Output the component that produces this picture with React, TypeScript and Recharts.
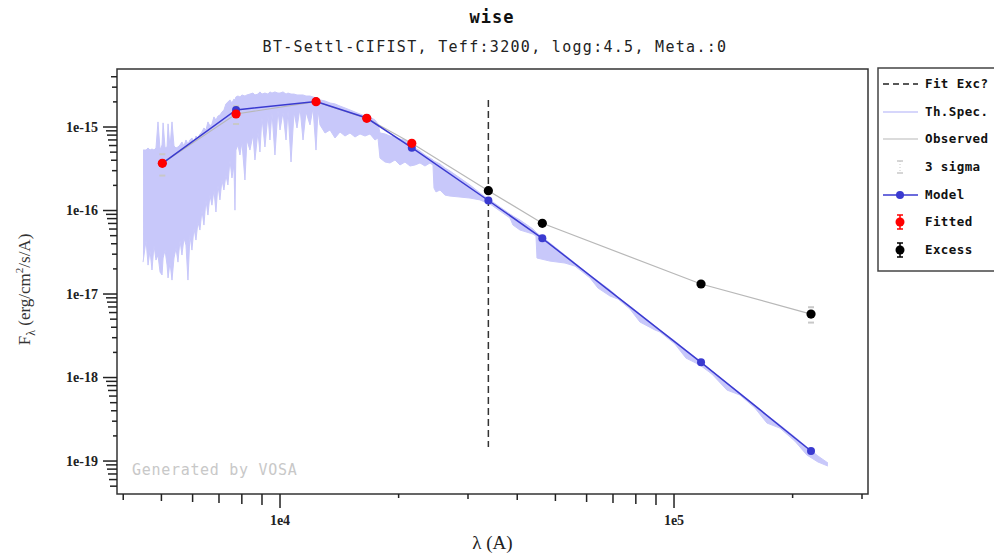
import React from "react";
import {
  Area,
  ComposedChart,
  ErrorBar,
  Legend,
  Line,
  ReferenceArea,
  Scatter,
  XAxis,
  YAxis,
} from "recharts";

// Axis extents (wavelength in A, flux in erg/cm2/s/A)
const X_DOMAIN = [3857, 310700];
const Y_DOMAIN = [4.03e-20, 4.95e-15];

const xTicks = [
  4000, 5000, 6000, 7000, 8000, 9000, 10000, 20000, 30000, 40000, 50000,
  60000, 70000, 80000, 90000, 100000, 200000, 300000,
];
const yTicks = [
  5e-20, 6e-20, 7e-20, 8e-20, 9e-20, 1e-19, 2e-19, 3e-19, 4e-19, 5e-19, 6e-19,
  7e-19, 8e-19, 9e-19, 1e-18, 2e-18, 3e-18, 4e-18, 5e-18, 6e-18, 7e-18, 8e-18,
  9e-18, 1e-17, 2e-17, 3e-17, 4e-17, 5e-17, 6e-17, 7e-17, 8e-17, 9e-17, 1e-16,
  2e-16, 3e-16, 4e-16, 5e-16, 6e-16, 7e-16, 8e-16, 9e-16, 1e-15, 2e-15, 3e-15,
  4e-15,
];

// theoretical spectrum (BT-Settl-CIFIST), upper / lower envelope
const specWave = [
  4491, 4571, 4624, 4677, 4732, 4788, 4844, 4901, 4961, 5019, 5049, 5108, 5168,
  5198, 5257, 5319, 5382, 5445, 5508, 5573, 5638, 5705, 5772, 5839, 5908, 5977,
  6048, 6119, 6190, 6263, 6337, 6411, 6487, 6562, 6640, 6718, 6797, 6877, 6957,
  7039, 7122, 7205, 7290, 7375, 7463, 7551, 7639, 7685, 7729, 7820, 7912, 8005,
  8147, 8242, 8388, 8537, 8637, 8789, 8893, 8997, 9157, 9318, 9428, 9539, 9708,
  9879, 10000, 10177, 10357, 10478, 10664, 10853, 11044, 11240, 11439, 11641,
  11916, 12127, 12341, 12486, 12633, 13008, 13393, 13790, 14199, 14620, 15054,
  15500, 15960, 16434, 16920, 17422, 17729, 17938, 18470, 19017, 19581, 20161,
  20759, 21375, 22009, 22661, 23333, 24024, 24449, 24592, 24882, 25470, 26226,
  27003, 28627, 30350, 32176, 33518, 34112, 36165, 38341, 39020, 40648, 43857,
  44633, 44891, 48436, 52875, 56057, 57716, 61189, 64117, 68774, 72059, 77299,
  81950, 89461, 92109, 100550, 107223, 116360, 124811, 136239, 146998, 160470,
  172107, 185701, 202722, 217425, 231857, 245809,
];
const specHigh = [
  5.3e-16, 5.3e-16, 5.61e-16, 5.3e-16, 5.45e-16, 5.3e-16, 5.61e-16, 1.15e-15,
  5.3e-16, 6.09e-16, 1.12e-15, 5.61e-16, 5.76e-16, 1.09e-15, 5.61e-16, 1.15e-15,
  5.92e-16, 5.61e-16, 5.76e-16, 6.09e-16, 6.62e-16, 5.92e-16, 6.99e-16, 6.26e-16,
  6.99e-16, 7.39e-16, 6.62e-16, 7.8e-16, 7.39e-16, 8.25e-16, 8.72e-16, 9.73e-16,
  9.21e-16, 1.15e-15, 1.03e-15, 1.09e-15, 1.32e-15, 1.21e-15, 1.35e-15, 1.39e-15,
  1.51e-15, 1.6e-15, 1.89e-15, 1.99e-15, 2.11e-15, 1.94e-15, 2.16e-15, 2.11e-15,
  2.29e-15, 2.35e-15, 2.29e-15, 2.42e-15, 2.35e-15, 2.42e-15, 2.48e-15, 2.55e-15,
  2.42e-15, 2.48e-15, 2.63e-15, 2.48e-15, 2.55e-15, 2.48e-15, 2.63e-15, 2.55e-15,
  2.63e-15, 2.55e-15, 2.55e-15, 2.63e-15, 2.48e-15, 2.55e-15, 2.48e-15, 2.48e-15,
  2.42e-15, 2.42e-15, 2.42e-15, 2.35e-15, 2.35e-15, 2.29e-15, 2.23e-15, 2.11e-15,
  2.11e-15, 2.05e-15, 1.94e-15, 1.89e-15, 1.78e-15, 1.69e-15, 1.6e-15, 1.51e-15,
  1.43e-15, 1.35e-15, 1.32e-15, 1.21e-15, 1.09e-15, 8.48e-16, 8.25e-16, 7.8e-16,
  7.59e-16, 7.19e-16, 6.99e-16, 6.26e-16, 5.61e-16, 5.16e-16, 4.62e-16, 4.25e-16,
  4.03e-16, 3.92e-16, 3.81e-16, 3.61e-16, 3.22e-16, 2.97e-16, 2.45e-16, 2.02e-16,
  1.62e-16, 1.41e-16, 1.34e-16, 1.1e-16, 9.08e-17, 8.59e-17, 7.69e-17, 6.0e-17,
  5.52e-17, 5.38e-17, 4.08e-17, 2.93e-17, 2.35e-17, 2.1e-17, 1.69e-17, 1.43e-17,
  1.12e-17, 9.21e-18, 7.18e-18, 5.77e-18, 4.14e-18, 3.71e-18, 2.73e-18, 2.13e-18,
  1.58e-18, 1.2e-18, 8.6e-19, 6.53e-19, 4.69e-19, 3.56e-19, 2.7e-19, 1.94e-19,
  1.47e-19, 1.15e-19, 9.49e-20,
];
const specLow = [
  2.41e-17, 4.43e-17, 2.22e-17, 3.36e-17, 1.94e-17, 3.86e-17, 2.55e-17, 2.93e-17,
  1.83e-17, 1.69e-17, 2.7e-17, 3.36e-17, 2.22e-17, 1.56e-17, 2.41e-17, 1.47e-17,
  2.7e-17, 3.55e-17, 2.41e-17, 4.43e-17, 2.93e-17, 4.68e-17, 3.86e-17, 1.47e-17,
  5.09e-17, 3.36e-17, 6.17e-17, 4.43e-17, 7.28e-17, 5.84e-17, 1.01e-16, 6.7e-17,
  1.34e-16, 8.83e-17, 1.53e-16, 1.16e-16, 1.76e-16, 9.6e-17, 2.02e-16, 1.34e-16,
  2.32e-16, 1.76e-16, 2.66e-16, 2.02e-16, 4.03e-16, 2.45e-16, 3.51e-16, 1.01e-16,
  5.3e-16, 6.09e-16, 4.62e-16, 6.62e-16, 2.32e-16, 6.99e-16, 5.3e-16, 8.02e-16,
  4.03e-16, 8.72e-16, 5.02e-16, 1.32e-15, 5.76e-16, 1.39e-15, 6.99e-16, 1.51e-15,
  4.62e-16, 1.6e-15, 9.21e-16, 1.51e-15, 6.99e-16, 1.6e-15, 3.81e-16, 1.51e-15,
  9.73e-16, 1.69e-15, 6.99e-16, 1.51e-15, 1.06e-15, 1.69e-15, 5.3e-16, 1.6e-15,
  1.06e-15, 8.48e-16, 9.21e-16, 7.39e-16, 8.72e-16, 7.8e-16, 8.48e-16, 7.59e-16,
  8.25e-16, 7.8e-16, 8.25e-16, 6.99e-16, 7.39e-16, 4.25e-16, 3.81e-16, 3.71e-16,
  4.03e-16, 3.51e-16, 3.81e-16, 3.41e-16, 3.51e-16, 3.71e-16, 3.41e-16, 3.71e-16,
  3.51e-16, 1.86e-16, 1.67e-16, 1.76e-16, 1.53e-16, 1.49e-16, 1.45e-16, 1.41e-16,
  1.34e-16, 1.23e-16, 1.2e-16, 9.87e-17, 8.13e-17, 6.7e-17, 5.84e-17, 5.23e-17,
  4.95e-17, 2.7e-17, 2.48e-17, 2.35e-17, 2.16e-17, 1.94e-17, 1.56e-17, 1.18e-17,
  9.47e-18, 8.71e-18, 6.61e-18, 4.62e-18, 3.71e-18, 3.51e-18, 2.52e-18, 1.71e-18,
  1.41e-18, 1.1e-18, 7.08e-19, 6.17e-19, 4.31e-19, 2.85e-19, 2.48e-19, 1.73e-19,
  1.18e-19, 9.75e-20, 8.71e-20,
];

// synthetic photometry of the model
const modelWave = [5027, 7734, 12343, 16600, 21600, 33790, 46320, 117100, 222700];
const modelFlux = [
  3.67e-16, 1.6e-15, 2.02e-15, 1.28e-15, 5.65e-16, 1.318e-16, 4.65e-17, 1.52e-18,
  1.32e-19,
];

// observed photometry used in the fit
const fittedWave = [5027, 7734, 12343, 16600, 21600];
const fittedFlux = [3.67e-16, 1.431e-15, 2.01e-15, 1.27e-15, 6.38e-16];
const fittedErr = [3.5e-17, 1.15e-16, 4.0e-17, 2.5e-17, 1.2e-17];

// WISE points flagged as infrared excess
const excessWave = [33790, 46320, 117100, 222700];
const excessFlux = [1.726e-16, 7.03e-17, 1.318e-17, 5.75e-18];
const excessErr = [3.5e-18, 1.3e-18, 2.5e-19, 4.0e-19];

// start of the excess (fit exclusion) marker
const fitExcWave = 33790;
const fitExcRange = [2.1e-15, 1.47e-19];

const MONO = "'DejaVu Sans Mono', monospace";
const SERIF = "'Liberation Serif', 'Times New Roman', serif";
const SPEC_COLOR = "#c8c8fa";
const MODEL_COLOR = "#3a3ad0";
const OBS_COLOR = "#b8b8b8";

const specData = specWave.map((w, i) => ({ w, band: [specLow[i], specHigh[i]] }));
const modelData = modelWave.map((w, i) => ({ w, f: modelFlux[i] }));
const fittedData = fittedWave.map((w, i) => ({ w, f: fittedFlux[i], e: fittedErr[i] }));
const excessData = excessWave.map((w, i) => ({ w, f: excessFlux[i], e: excessErr[i] }));
const observedData = [...fittedData, ...excessData];
const fitExcData = fitExcRange.map((f) => ({ w: fitExcWave, f }));
// 3 sigma limits above and below every observed point
const sigmaData = observedData.flatMap((d) => [
  { w: d.w, f: d.f + 3 * d.e },
  { w: d.w, f: d.f - 3 * d.e },
]);

function splitTick(v: number) {
  const exp = Math.floor(Math.log10(v) + 1e-9);
  const m = Math.round(v / Math.pow(10, exp));
  return { exp, m };
}

function XTick(props: any) {
  const { x, y, payload } = props;
  const { exp, m } = splitTick(payload.value);
  const len = m === 1 ? 14 : m + 2;
  return (
    <g>
      <line x1={x} x2={x} y1={y} y2={y + len} stroke="#222" strokeWidth={1.5} />
      {m === 1 && (
        <text x={x} y={y + 31} textAnchor="middle" fontFamily={SERIF} fontWeight="bold" fontSize={14} fill="#222">
          {`1e${exp}`}
        </text>
      )}
    </g>
  );
}

function YTick(props: any) {
  const { x, y, payload } = props;
  const { exp, m } = splitTick(payload.value);
  const len = m === 1 ? 14 : m + 2;
  return (
    <g>
      <line x1={x - len} x2={x} y1={y} y2={y} stroke="#222" strokeWidth={1.5} />
      {m === 1 && (
        <text x={x - 19} y={y + 4.5} textAnchor="end" fontFamily={SERIF} fontWeight="bold" fontSize={14} fill="#222">
          {`1e${exp}`}
        </text>
      )}
    </g>
  );
}

function LegendBox() {
  const rowY = [17, 45, 72, 100, 128, 155, 183];
  const labels = ["Fit Exc?", "Th.Spec.", "Observed", "3 sigma", "Model", "Fitted", "Excess"];
  const cx = 23;
  return (
    <svg width={117} height={206} style={{ display: "block" }}>
      <rect x={1} y={1} width={140} height={203} fill="#fff" stroke="#444" strokeWidth={1.5} />
      <line x1={6} x2={41} y1={rowY[0]} y2={rowY[0]} stroke="#222" strokeWidth={1.5} strokeDasharray="6 4" />
      <line x1={6} x2={41} y1={rowY[1]} y2={rowY[1]} stroke={SPEC_COLOR} strokeWidth={1.5} />
      <line x1={6} x2={41} y1={rowY[2]} y2={rowY[2]} stroke={OBS_COLOR} strokeWidth={1.2} />
      <g stroke="#c8c8c8" strokeWidth={1.5}>
        <line x1={cx - 3} x2={cx + 3} y1={rowY[3] - 6} y2={rowY[3] - 6} />
        <line x1={cx} x2={cx} y1={rowY[3] - 6} y2={rowY[3] + 6} strokeDasharray="1 2" strokeWidth={1} />
        <line x1={cx - 3} x2={cx + 3} y1={rowY[3] + 6} y2={rowY[3] + 6} />
      </g>
      <line x1={6} x2={41} y1={rowY[4]} y2={rowY[4]} stroke={MODEL_COLOR} strokeWidth={1.5} />
      <circle cx={cx} cy={rowY[4]} r={4} fill={MODEL_COLOR} />
      <g stroke="#f00" strokeWidth={1.5}>
        <line x1={cx} x2={cx} y1={rowY[5] - 7} y2={rowY[5] + 7} />
        <line x1={cx - 3} x2={cx + 3} y1={rowY[5] - 7} y2={rowY[5] - 7} />
        <line x1={cx - 3} x2={cx + 3} y1={rowY[5] + 7} y2={rowY[5] + 7} />
      </g>
      <circle cx={cx} cy={rowY[5]} r={4.5} fill="#f00" />
      <g stroke="#000" strokeWidth={1.5}>
        <line x1={cx} x2={cx} y1={rowY[6] - 7} y2={rowY[6] + 7} />
        <line x1={cx - 3} x2={cx + 3} y1={rowY[6] - 7} y2={rowY[6] - 7} />
        <line x1={cx - 3} x2={cx + 3} y1={rowY[6] + 7} y2={rowY[6] + 7} />
      </g>
      <circle cx={cx} cy={rowY[6]} r={4.5} fill="#000" />
      {labels.map((t, i) => (
        <text key={t} x={48} y={rowY[i] + 4} fontFamily={MONO} fontSize={12.5} fontWeight="bold" letterSpacing={0.4} fill="#111">
          {t}
        </text>
      ))}
    </svg>
  );
}

const dot = (color: string, r: number) => (p: any) =>
  <circle key={`${color}-${p.index}`} cx={p.cx} cy={p.cy} r={r} fill={color} />;

const sigmaShape = (p: any) => (
  <line x1={p.cx - 3} x2={p.cx + 3} y1={p.cy} y2={p.cy} stroke="#c8c8c8" strokeWidth={2} />
);

export default function App() {
  return (
    <div style={{ position: "absolute", left: 0, top: 0, width: 994, height: 557, overflow: "hidden", background: "#fff" }}>
      <ComposedChart width={994} height={557} margin={{ top: 69, right: 126, bottom: 3, left: 17 }}>
        <XAxis
          dataKey="w"
          type="number"
          scale="log"
          domain={X_DOMAIN}
          allowDataOverflow
          ticks={xTicks}
          interval={0}
          tick={<XTick />}
          tickLine={false}
          axisLine={false}
          tickSize={0}
          tickMargin={0}
          height={60}
          label={{
            content: (lp: any) => (
              <text x={lp.viewBox.x + lp.viewBox.width / 2} y={549} textAnchor="middle" fontFamily={SERIF} fontSize={19} fill="#222">
                λ (A)
              </text>
            ),
          }}
        />
        <YAxis
          dataKey="f"
          type="number"
          scale="log"
          domain={Y_DOMAIN}
          allowDataOverflow
          ticks={yTicks}
          interval={0}
          tick={<YTick />}
          tickLine={false}
          axisLine={false}
          tickSize={0}
          tickMargin={0}
          width={100}
          label={{
            content: (lp: any) => {
              const cx = 30;
              const cy = lp.viewBox.y + lp.viewBox.height / 2 + 8;
              return (
                <text x={cx} y={cy} transform={`rotate(-90 ${cx} ${cy})`} textAnchor="middle" fontFamily={SERIF} fontSize={17} fill="#333">
                  F<tspan fontSize={12} dy={5}>λ</tspan>
                  <tspan dy={-5}> (erg/cm</tspan>
                  <tspan fontSize={11} dy={-7}>2</tspan>
                  <tspan dy={7}>/s/A)</tspan>
                </text>
              );
            },
          }}
        />
        <Area
          data={specData}
          dataKey="band"
          type="linear"
          stroke={SPEC_COLOR}
          strokeWidth={1}
          fill={SPEC_COLOR}
          fillOpacity={1}
          dot={false}
          activeDot={false}
          isAnimationActive={false}
        />
        <Line
          data={fitExcData}
          dataKey="f"
          type="linear"
          stroke="#333"
          strokeWidth={1.5}
          strokeDasharray="7 4"
          dot={false}
          activeDot={false}
          isAnimationActive={false}
        />
        <Line
          data={observedData}
          dataKey="f"
          type="linear"
          stroke={OBS_COLOR}
          strokeWidth={1.2}
          dot={false}
          activeDot={false}
          isAnimationActive={false}
        />
        <Line
          data={modelData}
          dataKey="f"
          type="linear"
          stroke={MODEL_COLOR}
          strokeWidth={1.5}
          dot={{ r: 4, fill: MODEL_COLOR, stroke: "none" }}
          activeDot={false}
          isAnimationActive={false}
        />
        <Scatter data={sigmaData} dataKey="f" shape={sigmaShape} isAnimationActive={false} />
        <Line
          data={fittedData}
          dataKey="f"
          stroke="none"
          dot={dot("#f00", 4.6)}
          activeDot={false}
          isAnimationActive={false}
        >
          <ErrorBar dataKey="e" direction="y" width={0} stroke="#f00" strokeWidth={1.5} />
        </Line>
        <Line
          data={excessData}
          dataKey="f"
          stroke="none"
          dot={dot("#000", 4.6)}
          activeDot={false}
          isAnimationActive={false}
        >
          <ErrorBar dataKey="e" direction="y" width={0} stroke="#000" strokeWidth={1.5} />
        </Line>
        <ReferenceArea
          x1={X_DOMAIN[0]}
          x2={X_DOMAIN[1]}
          y1={Y_DOMAIN[0]}
          y2={Y_DOMAIN[1]}
          fill="none"
          stroke="#333"
          strokeWidth={1.5}
          ifOverflow="visible"
        />
        <Legend
          layout="vertical"
          align="center"
          verticalAlign="middle"
          wrapperStyle={{ left: 877, top: 67, width: 117, height: 206 }}
          content={() => <LegendBox />}
        />
        <text x={492} y={23} textAnchor="middle" fontFamily={MONO} fontWeight="bold" fontSize={17} letterSpacing={1} fill="#111">
          wise
        </text>
        <text x={495} y={52} textAnchor="middle" fontFamily={MONO} fontSize={15} letterSpacing={1.3} fill="#222">
          BT-Settl-CIFIST, Teff:3200, logg:4.5, Meta.:0
        </text>
        <text x={132} y={475} fontFamily={MONO} fontSize={15} letterSpacing={0.7} fill="#c8c8c8">
          Generated by VOSA
        </text>
      </ComposedChart>
    </div>
  );
}
